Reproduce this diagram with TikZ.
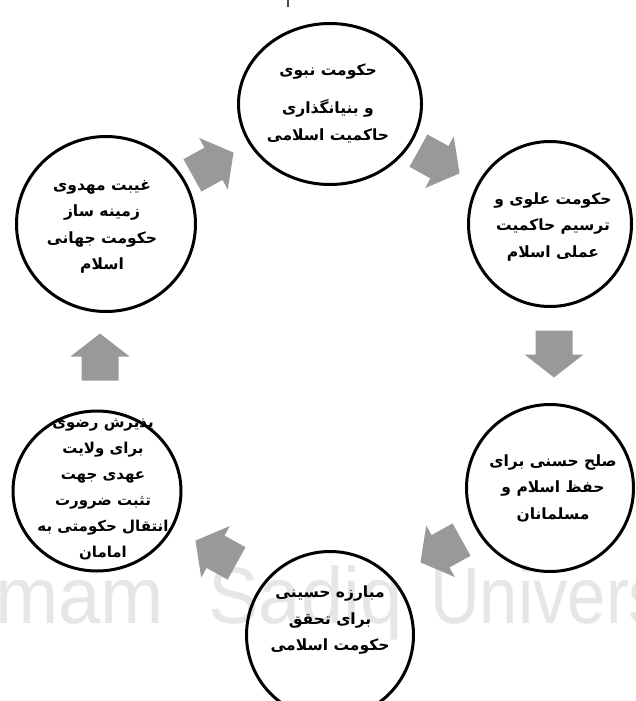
\documentclass[tikz,border=0pt]{standalone}
\usepackage{fontspec}
\usetikzlibrary{shapes.geometric}
\setmainfont{Liberation Sans}
\newfontfamily\fa[Script=Arabic]{DejaVu Sans}
\newfontfamily\markfont[FakeStretch=0.95]{Liberation Sans}
\newfontfamily\markfontnarrow[FakeStretch=0.86]{Liberation Sans}
\TeXXeTstate=1
\newcommand{\rl}[1]{\beginR #1\endR}
\definecolor{arrowgray}{RGB}{153,153,153}
\definecolor{markgray}{RGB}{230,230,230}
\tikzset{
  stage/.style={ellipse, draw=black, line width=3pt, inner sep=0pt},
  stagetext/.style={font=\fa\bfseries\fontsize{15.5}{26.5}\selectfont, align=center, inner sep=0pt},
  markword/.style={anchor=base west, inner sep=0pt, text=markgray,
                   font=\markfont\fontsize{80}{80}\selectfont},
  blockarr/.pic={
    \fill[arrowgray] (-23.5,-18.5) -- (0.5,-18.5) -- (0.5,-29.5) -- (23.5,0)
      -- (0.5,29.5) -- (0.5,18.5) -- (-23.5,18.5) -- cycle;
  }
}
\begin{document}
\begin{tikzpicture}[x=1pt,y=-1pt]
  \useasboundingbox (0,0) rectangle (636,701);
  \clip (0,0) rectangle (636,701);

  % faint background lettering
  \node[markword] (mark1) at (-5,623) {mam};
  \node[markword] (mark2) at (208,623) {Sadiq};
  \node[markword, font=\markfontnarrow\fontsize{80}{80}\selectfont] (mark3) at (430,623) {Univers};

  % the six stages of the cycle
  \node[stage, minimum width=183, minimum height=161] (c1) at (330,104) {};
  \node[stage, minimum width=163, minimum height=165] (c2) at (550,224) {};
  \node[stage, minimum width=167, minimum height=167] (c3) at (550,488) {};
  \node[stage, minimum width=167, minimum height=167] (c4) at (330,635) {};
  \node[stage, minimum width=168, minimum height=160] (c5) at (97,491) {};
  \node[stage, minimum width=179, minimum height=175] (c6) at (106,224) {};

  \node[stagetext] (t1) at (328,103)
    {\rl{حکومت نبوی}\\[12pt]\rl{و بنیانگذاری}\\\rl{حاکمیت اسلامی}};
  \node[stagetext] (t2) at (553,227)
    {\rl{حکومت علوی و}\\\rl{ترسیم  حاکمیت}\\\rl{عملی اسلام}};
  \node[stagetext] (t3) at (553,488)
    {\rl{صلح حسنی برای}\\\rl{حفظ  اسلام و}\\\rl{مسلمانان}};
  \node[stagetext] (t4) at (330,620)
    {\rl{مبارزه حسینی}\\\rl{برای تحقق}\\\rl{حکومت اسلامی}};
  \node[stagetext, font=\fa\bfseries\fontsize{15}{26}\selectfont] (t5) at (103,489)
    {\rl{پذیرش رضوی}\\\rl{برای ولایت}\\\rl{عهدی جهت}\\\rl{تثبت ضرورت}\\\rl{انتقال حکومتی به}\\\rl{امامان}};
  \node[stagetext] (t6) at (102,227)
    {\rl{غیبت مهدوی}\\\rl{زمینه ساز}\\\rl{حکومت جهانی}\\\rl{اسلام}};

  % block arrows between consecutive stages
  \pic[rotate=29]  at (213,164) {blockarr};
  \pic[rotate=-29] at (439,162) {blockarr};
  \pic[rotate=-90] at (554,354) {blockarr};
  \pic[rotate=209] at (441,551) {blockarr};
  \pic[rotate=151] at (216,552) {blockarr};
  \pic[rotate=90]  at (100,357) {blockarr};

  % small stroke at the top edge
  \draw[line width=2pt, black!70] (288,0) -- (288,7);
\end{tikzpicture}
\end{document}
